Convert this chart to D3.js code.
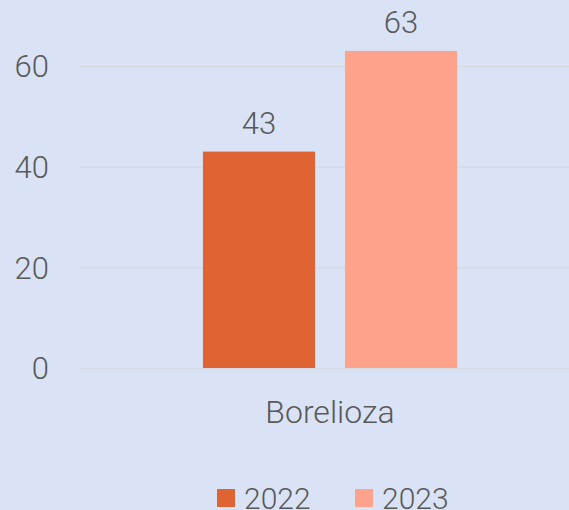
<!DOCTYPE html>
<html>
<head>
<meta charset="utf-8">
<script src="https://cdn.jsdelivr.net/npm/d3@7"></script>
<style>
  html, body { margin: 0; padding: 0; background: #DAE3F5; }
  svg { display: block; }
  text { font-family: Roboto, "DejaVu Sans", sans-serif; font-weight: 300; fill: #595959; }
</style>
</head>
<body>
<div id="chart"></div>
<script>
var categories = ["Borelioza"];
var years = ["2022", "2023"];
var values2022 = [43];
var values2023 = [63];
var yTicks = [0, 20, 40, 60];
var colors = ["#E06433", "#FFA28C"];

var width = 569;
var height = 510;
var left = 80, right = 580;
var zeroY = 368, topY = 66; // 0 and 60

var svg = d3.select("#chart")
	.append("svg")
	.attr("width", width)
	.attr("height", height);

svg.append("rect")
	.attr("width", width)
	.attr("height", height)
	.attr("fill", "#DAE3F5");

var yScale = d3.scaleLinear()
	.domain([0, 60])
	.range([zeroY, topY]);

var x0 = d3.scaleBand()
	.domain(categories)
	.range([left, right])
	.paddingInner(0)
	.paddingOuter(0.484);

var x1 = d3.scaleBand()
	.domain(years)
	.range([0, x0.bandwidth()])
	.paddingInner(0.211);

var color = d3.scaleOrdinal().domain(years).range(colors);

// gridlines + y labels
var yAxis = d3.axisLeft(yScale)
	.tickValues(yTicks)
	.tickSize(-(right - left))
	.tickPadding(31);

var yg = svg.append("g")
	.attr("transform", "translate(" + left + ",0)")
	.call(yAxis);
yg.select(".domain").remove();
yg.selectAll(".tick line")
	.attr("stroke", "#D6D9DF")
	.attr("stroke-width", 1.5);
yg.selectAll(".tick text")
	.attr("font-size", "31px")
	.attr("dy", "0.35em")
	.attr("fill", "#595959");

var rows = [];
categories.forEach(function(c, i) {
	rows.push({cat: c, year: "2022", value: values2022[i]});
	rows.push({cat: c, year: "2023", value: values2023[i]});
});

svg.selectAll("rect.bar")
	.data(rows)
	.enter()
	.append("rect")
	.attr("class", "bar")
	.attr("x", function(d) { return x0(d.cat) + x1(d.year); })
	.attr("y", function(d) { return yScale(d.value); })
	.attr("width", x1.bandwidth())
	.attr("height", function(d) { return zeroY - yScale(d.value); })
	.attr("fill", function(d) { return color(d.year); });

svg.selectAll("text.val")
	.data(rows)
	.enter()
	.append("text")
	.attr("class", "val")
	.attr("x", function(d) { return x0(d.cat) + x1(d.year) + x1.bandwidth() / 2; })
	.attr("y", function(d) { return yScale(d.value) - 18; })
	.attr("text-anchor", "middle")
	.attr("font-size", "31px")
	.text(function(d) { return d.value; });

// category axis
var xAxis = d3.axisBottom(x0).tickSize(0).tickPadding(0);
var xg = svg.append("g")
	.attr("transform", "translate(0," + zeroY + ")")
	.call(xAxis);
xg.select(".domain").remove();
xg.selectAll(".tick text")
	.attr("font-size", "32px")
	.attr("dy", 0)
	.attr("y", 55)
	.attr("fill", "#595959");

// legend
var legendX = [217, 355];
var legend = svg.selectAll(".legend")
	.data(years)
	.enter()
	.append("g")
	.attr("class", "legend")
	.attr("transform", function(d, i) { return "translate(" + legendX[i] + ",489)"; });

legend.append("rect")
	.attr("width", 18)
	.attr("height", 18)
	.attr("fill", function(d) { return color(d); });

legend.append("text")
	.attr("x", 27)
	.attr("y", 20)
	.attr("font-size", "30px")
	.text(function(d) { return d; });
</script>
</body>
</html>
